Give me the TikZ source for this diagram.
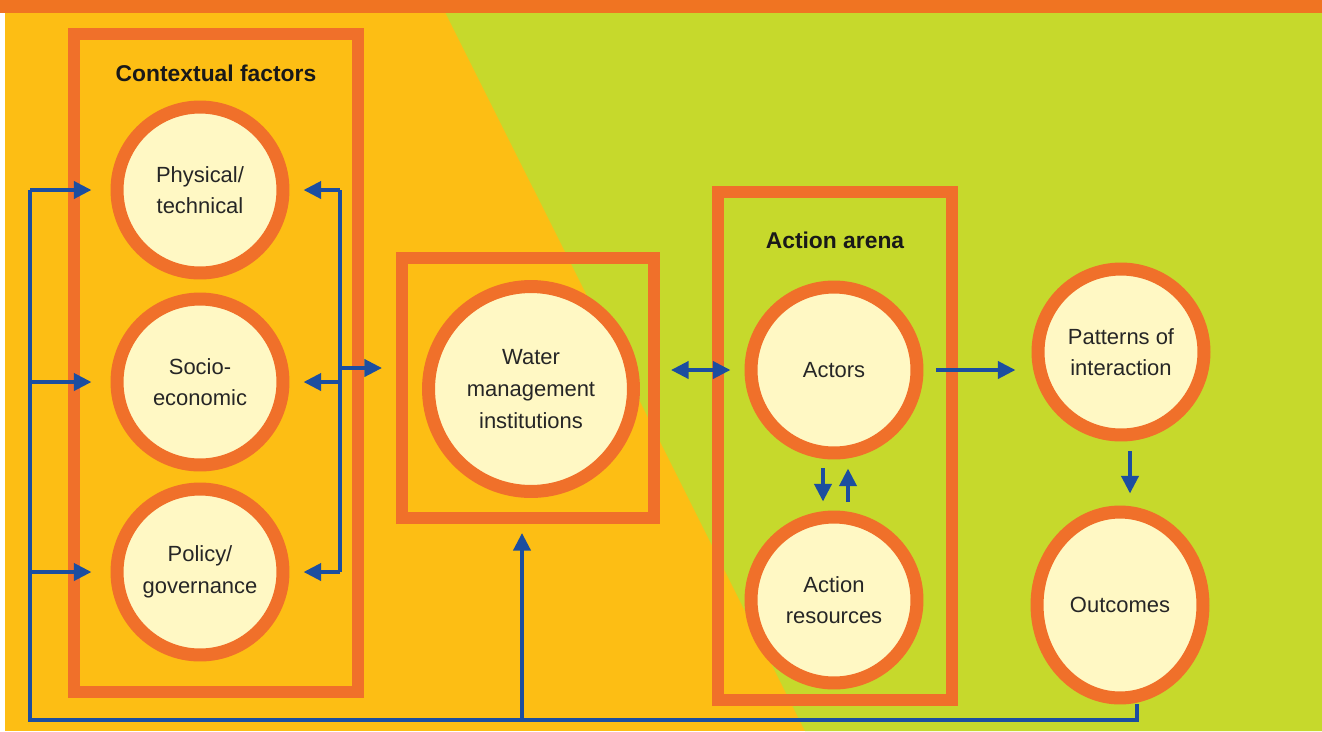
\documentclass[tikz,border=0pt]{standalone}
\usepackage{fontspec}
\setmainfont{Liberation Sans}
\usetikzlibrary{positioning,calc,arrows.meta,shapes.geometric}
\definecolor{iadBand}{HTML}{F07422}
\definecolor{iadYellow}{HTML}{FDBE14}
\definecolor{iadGreen}{HTML}{C6D92C}
\definecolor{iadRing}{HTML}{F0702A}
\definecolor{iadCream}{HTML}{FFF8C4}
\definecolor{iadBlue}{HTML}{1C4EA0}
\tikzset{
  factor/.style={circle, draw=iadRing, fill=iadCream, line width=7.4pt,
    minimum size=3.32cm, inner sep=0pt, align=center,
    font=\fontsize{12.5}{18}\selectfont, text=black!85},
  frame/.style={draw=iadRing, line width=6.8pt, inner sep=0pt},
  heading/.style={font=\fontsize{13}{16}\selectfont\bfseries, text=black!90},
  flowline/.style={draw=iadBlue, line width=2.3pt},
  flow/.style={flowline, ->, shorten >=0.28cm}
}

\begin{document}
\begin{tikzpicture}[x=0.02cm, y=-0.02cm, >={Triangle[length=10pt,width=9.6pt]}]

% --- BACKGROUND ---
\useasboundingbox (0,0) rectangle (1322,731);
\fill[iadYellow] (0,0) rectangle (1322,731);
\fill[iadGreen] (445,12) -- (1322,12) -- (1322,731) -- (805,731) -- cycle;
\fill[iadBand] (0,0) rectangle (1322,13);
\fill[white] (0,13) rectangle (5,731);

% --- FRAMES ---
\node[frame, minimum width=5.68cm, minimum height=13.16cm] (ctx) at (216,363) {};
\node[frame, minimum width=5.04cm, minimum height=5.2cm] (wbox) at (528,388) {};
\node[frame, minimum width=4.68cm, minimum height=10.16cm] (arena) at (835,446) {};
\node[heading] (ctxlabel) at (216,73) {Contextual factors};
\node[heading] (arenalabel) at (835,240) {Action arena};

% --- CIRCLES ---
\node[factor] (phys) at (200,190) {Physical/\\technical};
\node[factor] (socio) at (200,382) {Socio-\\economic};
\node[factor] (policy) at (200,572) {Policy/\\governance};
\node[factor, minimum size=4.1cm] (wmi) at (531,389) {Water\\management\\institutions};
\node[factor] (actors) at (834,370) {Actors};
\node[factor] (resources) at (834,600) {Action\\resources};
\node[factor] (patterns) at (1121,352) {Patterns of\\interaction};
\node[factor, ellipse, minimum width=3.32cm, minimum height=3.72cm] (outcomes) at (1120,605) {Outcomes};

% --- FEEDBACK LOOP ---
\coordinate (fbR) at (1137,720);
\coordinate (fbL) at (30,720);
\coordinate (fbTop) at (30,190);
\coordinate (fbMid) at (522,720);
\draw[flowline] (fbR |- outcomes.south) -- (fbR) -- (fbL) -- (fbTop);
\draw[flow, shorten >=0.38cm] (fbTop) -- (phys.west);
\draw[flow, shorten >=0.38cm] (fbL |- socio) -- (socio.west);
\draw[flow, shorten >=0.38cm] (fbL |- policy) -- (policy.west);
\draw[flow, shorten >=0.18cm] (fbMid) -- (fbMid |- wbox.south);

% --- CONTEXT TO INSTITUTIONS ---
\coordinate (rvTop) at (340,190);
\coordinate (rvBot) at (340,572);
\coordinate (rvJoin) at (340,368);
\draw[flowline] (rvTop) -- (rvBot);
\draw[flow] (rvTop) -- (phys.east);
\draw[flow] (rvTop |- socio) -- (socio.east);
\draw[flow] (rvBot) -- (policy.east);
\draw[flow] (rvJoin) -- (wbox.west |- rvJoin);

% --- ACTION ARENA ---
\draw[flow, <->, shorten <=0.22cm] (wbox.east |- actors) -- (actors.west);
\draw[flow, shorten <=0.26cm, shorten >=0.32cm] (actors.east) -- (patterns.west |- actors.east);
\draw[flow, shorten <=0.18cm, shorten >=0.18cm] ([xshift=-0.22cm]actors.south) -- ([xshift=-0.22cm]resources.north);
\draw[flow, shorten <=0.18cm, shorten >=0.18cm] ([xshift=0.28cm]resources.north) -- ([xshift=0.28cm]actors.south);
\coordinate (pOut) at ([xshift=0.18cm]patterns.south);
\draw[flow, shorten <=0.2cm, shorten >=0.24cm] (pOut) -- (pOut |- outcomes.north);

\end{tikzpicture}
\end{document}
